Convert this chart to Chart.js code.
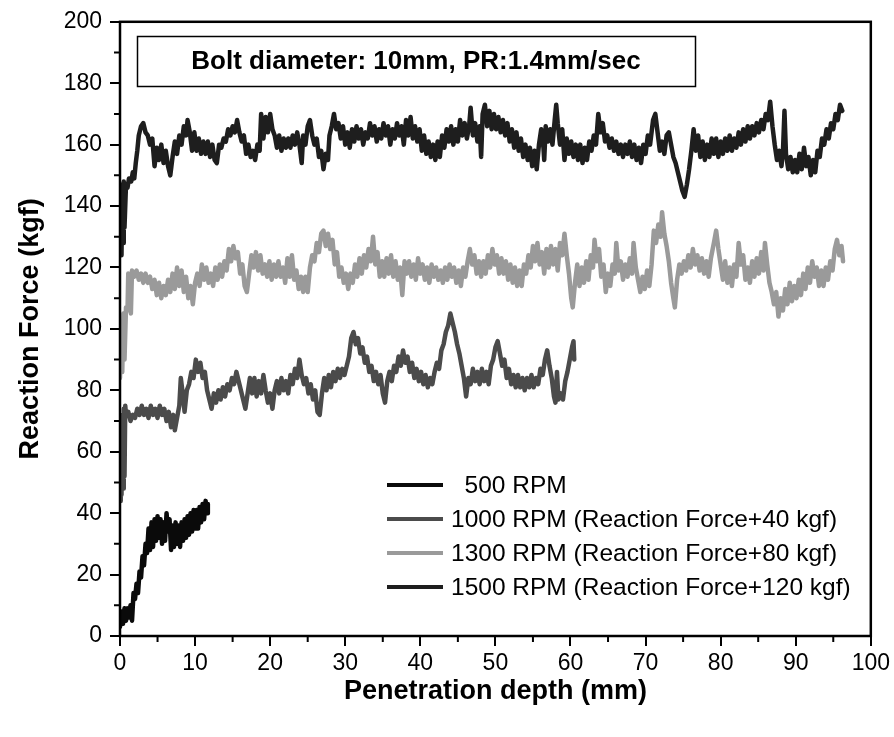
<!DOCTYPE html>
<html><head><meta charset="utf-8">
<script src="https://cdn.jsdelivr.net/npm/chart.js@4/dist/chart.umd.min.js"></script>
<style>html,body{margin:0;padding:0;background:#fff}#wrap{width:894px;height:737px}</style>
</head><body><div id="wrap"><canvas id="c" width="894" height="737"></canvas></div>
<script>
const chartTitle = 'Bolt diameter: 10mm, PR:1.4mm/sec';
const xTitle = 'Penetration depth (mm)';
const yTitle = 'Reaction Force (kgf)';
const seriesLabels = ['  500 RPM', '1000 RPM (Reaction Force+40 kgf)', '1300 RPM (Reaction Force+80 kgf)', '1500 RPM (Reaction Force+120 kgf)'];
const seriesColors = ['#0a0a0a', '#4b4b4b', '#9a9a9a', '#1e1e1e'];
const xTickValues = [0,10,20,30,40,50,60,70,80,90,100];
const yTickValues = [0,20,40,60,80,100,120,140,160,180,200];

const x500 = [0,0.2,0.4,0.6,0.8,1.0,1.2,1.4,1.6,1.8,2.0,2.2,2.4,2.6,2.8,3.0,3.2,3.4,3.6,3.8,4.0,4.2,4.4,4.6,4.8,5.0,5.2,5.4,5.6,5.8,6.0,6.2,6.4,6.6,6.8,7.0,7.2,7.4,7.6,7.8,8.0,8.2,8.4,8.6,8.8,9.0,9.2,9.4,9.6,9.8,10.0,10.2,10.4,10.6,10.8,11.0,11.2,11.4,11.6,11.7];
const y500 = [3,8,4,9,5,9,6,10,5,14,12,17,14,21,19,26,23,30,27,35,28,37,29,38,31,39,32,38,30,37,31,40,34,38,28,36,29,37,30,36,29,37,31,38,32,39,33,40,34,41,35,41,35,42,37,43,38,44,40,43];

const x1000 = [0,0.1,0.2,0.3,0.4,0.5,0.6,0.7,0.8,1.1,1.4,1.7,2.0,2.3,2.6,2.9,3.2,3.5,3.8,4.1,4.4,4.7,5.0,5.3,5.6,5.9,6.2,6.5,6.8,7.1,7.3,7.6,7.9,8.1,8.4,8.6,8.9,9.2,9.5,9.8,10.1,10.4,10.7,11.0,11.3,11.6,11.9,12.2,12.5,12.8,13.1,13.4,13.7,14.0,14.3,14.6,14.9,15.2,15.5,15.8,16.1,16.4,16.7,17.0,17.3,17.6,17.9,18.2,18.5,18.8,19.1,19.4,19.7,20.0,20.3,20.6,20.9,21.2,21.5,21.8,22.1,22.4,22.7,23.0,23.3,23.6,23.9,24.2,24.5,24.8,25.1,25.4,25.7,26.0,26.3,26.6,26.9,27.2,27.5,27.8,28.1,28.4,28.7,29.0,29.3,29.6,29.9,30.2,30.5,30.8,31.1,31.4,31.7,32.0,32.3,32.6,32.9,33.2,33.5,33.8,34.1,34.4,34.7,35.0,35.3,35.6,35.9,36.2,36.5,36.8,37.1,37.4,37.7,38.0,38.3,38.6,38.9,39.2,39.5,39.8,40.1,40.4,40.7,41.0,41.3,41.6,41.9,42.2,42.5,42.8,43.1,43.4,43.7,44.0,44.3,44.6,44.9,45.2,45.5,45.8,46.1,46.4,46.7,47.0,47.3,47.6,47.9,48.2,48.5,48.8,49.1,49.4,49.7,50.0,50.3,50.6,50.9,51.2,51.5,51.8,52.1,52.4,52.7,53.0,53.3,53.6,53.9,54.2,54.5,54.8,55.1,55.4,55.7,56.0,56.3,56.6,56.9,57.2,57.5,57.8,58.0,58.2,58.4,58.7,59.0,59.3,59.6,59.9,60.2,60.4,60.5];
const y1000 = [44,70,46,72,48,74,52,75,72,73,70,72,71,74,72,75,72,74,71,75,72,74,71,75,72,74,70,73,68,72,67,71,75,84,78,73,80,82,86,84,90,86,89,84,86,80,77,74,79,76,80,77,81,78,82,80,84,82,86,83,80,77,74,79,84,79,84,78,83,79,85,80,76,79,74,80,83,79,84,80,83,79,85,82,87,84,90,85,82,84,79,82,77,80,73,72,79,84,80,85,81,86,83,87,84,87,85,88,91,97,99,95,97,92,94,89,91,86,88,83,86,82,85,79,76,83,86,83,88,86,91,88,93,89,91,86,89,84,87,83,86,82,85,81,84,82,86,89,87,93,95,99,101,105,102,99,95,92,88,84,78,84,82,87,83,86,82,87,83,86,82,88,90,94,96,92,88,90,84,87,82,85,81,85,81,84,80,84,81,85,81,84,82,87,85,90,93,88,84,78,76,86,77,79,77,83,86,90,94,96,90];

const x1300 = [0,0.15,0.3,0.45,0.6,0.8,1.0,1.1,1.3,1.45,1.6,1.9,2.2,2.5,2.8,3.1,3.4,3.7,4.0,4.3,4.6,4.9,5.2,5.5,5.8,6.1,6.4,6.7,7.0,7.3,7.6,7.9,8.2,8.5,8.8,9.1,9.4,9.7,10.0,10.3,10.6,10.9,11.2,11.5,11.8,12.1,12.4,12.7,13.0,13.3,13.6,13.9,14.2,14.5,14.8,15.1,15.4,15.7,16.0,16.3,16.6,16.9,17.2,17.5,17.8,18.1,18.4,18.7,19.0,19.3,19.6,19.9,20.2,20.5,20.8,21.1,21.4,21.7,22.0,22.3,22.6,22.9,23.2,23.5,23.8,24.1,24.4,24.7,25.0,25.3,25.6,25.9,26.2,26.5,26.8,27.1,27.4,27.7,28.0,28.3,28.6,28.9,29.2,29.5,29.8,30.1,30.4,30.7,31.0,31.3,31.6,31.9,32.2,32.5,32.8,33.1,33.4,33.7,34.0,34.3,34.6,34.9,35.2,35.5,35.8,36.1,36.4,36.7,37.0,37.3,37.6,37.9,38.2,38.5,38.8,39.1,39.4,39.7,40.0,40.3,40.6,40.9,41.2,41.5,41.8,42.1,42.4,42.7,43.0,43.3,43.6,43.9,44.2,44.5,44.8,45.1,45.4,45.7,46.0,46.3,46.6,46.9,47.2,47.5,47.8,48.1,48.4,48.7,49.0,49.3,49.6,49.9,50.2,50.5,50.8,51.1,51.4,51.7,52.0,52.3,52.6,52.9,53.2,53.5,53.8,54.1,54.4,54.7,55.0,55.3,55.6,55.9,56.2,56.5,56.8,57.1,57.4,57.7,58.0,58.3,58.6,58.9,59.2,59.5,59.8,60.1,60.3,60.6,60.9,61.2,61.5,61.8,62.1,62.4,62.7,63.0,63.2,63.5,63.8,64.1,64.4,64.7,65.0,65.3,65.6,65.9,66.1,66.4,66.7,67.0,67.3,67.6,67.9,68.2,68.4,68.7,69.0,69.3,69.6,69.9,70.2,70.5,70.8,71.1,71.4,71.7,72.0,72.2,72.5,72.8,73.1,73.4,73.7,73.9,74.2,74.5,74.8,75.1,75.4,75.7,76.0,76.3,76.6,76.9,77.2,77.5,77.8,78.1,78.4,78.7,79.1,79.4,79.7,80.0,80.3,80.6,80.9,81.2,81.5,81.8,82.1,82.4,82.7,83.0,83.3,83.6,83.9,84.2,84.5,84.8,85.1,85.4,85.7,85.9,86.2,86.5,86.8,87.1,87.4,87.7,88.0,88.3,88.6,88.9,89.2,89.5,89.8,90.1,90.4,90.7,91.0,91.3,91.6,91.9,92.2,92.5,92.8,93.1,93.4,93.7,94.0,94.3,94.6,94.9,95.2,95.5,95.8,96.1,96.3];
const y1300 = [84,100,86,105,90,107,106,118,116,105,119,117,119,116,118,115,118,115,117,113,116,111,115,110,114,111,116,112,118,113,120,114,119,112,117,110,114,108,115,118,114,121,116,120,115,118,114,120,116,121,117,122,119,126,122,127,123,125,118,121,114,112,118,124,120,125,119,124,118,121,117,122,116,121,117,122,117,120,115,123,117,124,116,119,113,117,112,117,112,120,124,122,128,125,131,132,127,131,126,129,121,125,117,120,115,118,113,118,115,121,117,123,118,124,120,126,122,130,121,125,117,122,117,123,118,124,117,122,116,120,111,122,118,122,117,121,116,123,118,121,116,120,115,121,117,120,116,119,115,120,116,121,117,120,115,119,114,120,117,122,126,121,124,118,122,117,122,118,124,120,126,121,124,118,123,118,122,116,121,115,120,114,119,114,121,118,124,120,127,122,128,121,125,118,126,120,127,121,126,119,128,124,131,124,118,110,107,115,121,114,120,115,122,116,124,120,129,122,126,117,121,112,118,114,121,118,128,119,122,116,121,117,123,118,128,120,116,112,117,113,119,114,121,132,128,134,130,138,131,127,122,115,110,107,116,121,118,122,119,124,120,126,121,124,119,123,118,122,117,123,128,132,126,121,116,122,115,120,114,121,117,128,121,124,116,120,115,122,117,123,118,125,119,128,121,115,112,108,112,104,110,106,113,108,115,109,114,110,116,111,118,113,120,115,122,117,120,114,119,114,120,116,122,119,126,129,124,127,122];

const x1500 = [0,0.1,0.2,0.3,0.4,0.5,0.6,0.8,1.0,1.2,1.5,1.7,1.9,2.1,2.3,2.5,2.8,3.1,3.4,3.7,4.0,4.3,4.6,4.9,5.2,5.5,5.8,6.1,6.4,6.7,7.0,7.3,7.6,7.9,8.2,8.5,8.8,9.0,9.3,9.6,9.9,10.2,10.5,10.8,11.1,11.4,11.7,12.0,12.3,12.6,12.9,13.2,13.5,13.8,14.1,14.4,14.7,15.0,15.3,15.6,15.9,16.2,16.5,16.8,17.1,17.4,17.7,18.0,18.3,18.6,18.8,19.1,19.4,19.7,20.0,20.3,20.6,20.9,21.2,21.5,21.8,22.1,22.4,22.7,23.0,23.3,23.6,23.9,24.2,24.4,24.7,25.0,25.3,25.6,25.9,26.2,26.5,26.8,27.1,27.4,27.7,27.9,28.2,28.5,28.8,29.1,29.4,29.7,30.0,30.3,30.6,30.9,31.2,31.5,31.8,32.1,32.4,32.7,33.0,33.3,33.6,33.9,34.2,34.5,34.8,35.1,35.4,35.7,36.0,36.3,36.6,36.9,37.2,37.5,37.8,38.1,38.4,38.7,39.0,39.3,39.6,39.9,40.2,40.5,40.8,41.1,41.4,41.7,42.0,42.3,42.6,42.9,43.2,43.5,43.8,44.1,44.4,44.7,45.0,45.3,45.6,45.9,46.2,46.5,46.7,47.0,47.3,47.6,47.9,48.1,48.3,48.6,48.9,49.2,49.5,49.8,50.1,50.4,50.7,51.0,51.3,51.6,51.9,52.2,52.5,52.8,53.1,53.4,53.7,54.0,54.3,54.6,54.9,55.2,55.5,55.8,56.1,56.4,56.5,56.7,57.0,57.3,57.6,57.9,58.1,58.3,58.6,58.9,59.2,59.5,59.8,60.1,60.4,60.7,61.0,61.3,61.6,61.9,62.2,62.5,62.8,63.1,63.4,63.7,64.0,64.3,64.6,64.9,65.2,65.5,65.8,66.1,66.4,66.7,67.0,67.3,67.6,67.9,68.2,68.5,68.8,69.1,69.4,69.7,70.0,70.3,70.6,71.0,71.3,71.6,71.9,72.2,72.5,72.8,73.1,73.4,73.7,74.0,74.3,74.6,74.9,75.2,75.5,75.8,76.1,76.4,76.7,77.0,77.3,77.6,77.9,78.2,78.5,78.8,79.1,79.4,79.7,80.0,80.3,80.6,80.9,81.2,81.5,81.8,82.1,82.4,82.7,83.0,83.3,83.6,83.9,84.2,84.5,84.8,85.1,85.4,85.7,86.0,86.3,86.6,86.9,87.2,87.5,87.8,88.1,88.3,88.5,88.7,89.0,89.3,89.6,89.9,90.2,90.5,90.8,91.1,91.4,91.7,92.0,92.3,92.6,92.9,93.2,93.5,93.8,94.1,94.4,94.7,95.0,95.3,95.6,95.9,96.2];
const y1500 = [125,147,124,146,128,148,133,147,146,149,148,151,149,154,158,163,166,167,164,163,160,162,153,159,155,160,154,158,153,150,156,161,157,163,160,166,163,168,164,158,164,158,162,157,161,157,161,156,160,155,154,160,159,162,161,165,163,166,164,168,164,161,163,157,160,156,158,155,160,158,170,162,169,164,170,165,163,159,163,158,162,159,162,159,163,160,164,160,154,163,160,166,168,163,160,162,156,158,152,157,155,163,166,170,165,167,162,166,160,164,159,165,161,166,162,165,160,164,162,167,163,166,161,165,162,167,163,166,160,165,162,167,163,166,160,168,163,169,162,166,161,165,158,163,157,161,156,160,155,161,156,163,159,165,161,166,160,165,161,168,163,167,162,166,172,163,167,161,166,156,170,173,166,171,165,170,165,169,164,168,163,167,161,165,159,164,158,162,156,160,155,159,153,158,152,160,165,159,155,166,161,165,160,168,173,167,160,165,155,162,157,161,156,160,155,160,154,159,155,161,158,163,160,170,164,167,161,163,159,162,158,161,157,160,156,160,157,161,156,160,155,159,154,160,157,163,160,168,170,164,158,161,157,163,164,160,156,154,151,148,145,143,147,152,158,165,158,163,156,161,155,160,156,162,157,162,156,161,157,162,158,163,158,162,159,164,160,165,161,166,162,166,163,167,164,168,165,170,168,174,166,160,155,158,153,158,171,157,152,156,151,155,151,157,152,159,153,156,150,155,151,158,156,162,160,165,162,167,165,170,168,173,171];

const xs = [x500, x1000, x1300, x1500];
const ys = [y500, y1000, y1300, y1500];

const datasets = xs.map((xa, i) => ({
  label: seriesLabels[i],
  data: xa.map((v, j) => ({x: v, y: ys[i][j]})),
  borderColor: seriesColors[i],
  backgroundColor: seriesColors[i],
  borderWidth: 4.5,
  borderJoinStyle: 'round',
  borderCapStyle: 'round',
  pointRadius: 0,
  tension: 0,
  fill: false
}));

const extras = {
  id: 'extras',
  afterDatasetsDraw(chart) {
    const {ctx, chartArea: a, scales} = chart;
    const sx = scales.x, sy = scales.y;
    ctx.save();
    ctx.strokeStyle = '#000';
    ctx.lineWidth = 2.5;
    ctx.strokeRect(a.left, a.top, a.right - a.left, a.bottom - a.top);
    ctx.lineWidth = 2;
    ctx.beginPath();
    for (let v = 5; v < 100; v += 10) {
      const p = sx.getPixelForValue(v);
      ctx.moveTo(p, a.bottom); ctx.lineTo(p, a.bottom + 6);
    }
    for (let v = 10; v < 200; v += 20) {
      const p = sy.getPixelForValue(v);
      ctx.moveTo(a.left, p); ctx.lineTo(a.left - 6, p);
    }
    ctx.stroke();
    ctx.lineWidth = 1.5;
    ctx.strokeRect(137.5, 36.5, 558, 50);
    ctx.fillStyle = '#000';
    ctx.font = 'bold 26px "Liberation Sans", Arial, sans-serif';
    ctx.textAlign = 'center';
    ctx.textBaseline = 'middle';
    ctx.fillText(chartTitle, 416, 62);
    ctx.font = '24.5px "Liberation Sans", Arial, sans-serif';
    ctx.textAlign = 'left';
    chart.data.datasets.forEach((ds, i) => {
      const y = 485 + i * 34;
      ctx.strokeStyle = ds.borderColor;
      ctx.lineWidth = 4;
      ctx.beginPath();
      ctx.moveTo(387, y); ctx.lineTo(443, y);
      ctx.stroke();
      ctx.fillText(ds.label, 451, y + 1);
    });
    ctx.restore();
  }
};

const tickFont = {family: '"Liberation Sans Narrow", "Liberation Sans", Arial, sans-serif', size: 23};
const titleFont = {family: '"Liberation Sans", Arial, sans-serif', size: 27, weight: 'bold'};

new Chart(document.getElementById('c'), {
  type: 'line',
  data: {datasets},
  options: {
    responsive: false,
    animation: false,
    devicePixelRatio: 1,
    layout: {padding: {top: 19, right: 18, left: 0, bottom: 0}},
    plugins: {legend: {display: false}, tooltip: {enabled: false}, title: {display: false}},
    scales: {
      x: {
        type: 'linear', min: 0, max: 100,
        afterBuildTicks: s => { s.ticks = xTickValues.map(v => ({value: v})); },
        afterFit: s => { s.height = 101; },
        ticks: {font: tickFont, color: '#000', padding: 4, maxRotation: 0, autoSkip: false},
        grid: {display: true, drawOnChartArea: false, drawTicks: true, tickLength: 10, lineWidth: 2, color: '#000'},
        border: {display: false},
        title: {display: true, text: xTitle, font: titleFont, color: '#000', padding: {top: 0, bottom: 29}}
      },
      y: {
        type: 'linear', min: 0, max: 200,
        afterBuildTicks: s => { s.ticks = yTickValues.map(v => ({value: v})); },
        afterFit: s => { s.width = 120; },
        ticks: {font: tickFont, color: '#000', padding: 8, autoSkip: false},
        grid: {display: true, drawOnChartArea: false, drawTicks: true, tickLength: 10, lineWidth: 2, color: '#000'},
        border: {display: false},
        title: {display: true, text: yTitle, font: titleFont, color: '#000', padding: {top: 14, bottom: 0}}
      }
    }
  },
  plugins: [extras]
});
</script></body></html>
